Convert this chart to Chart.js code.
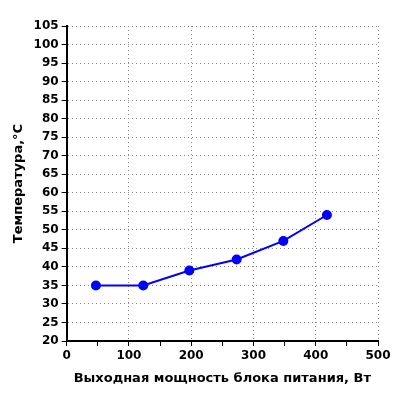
<!DOCTYPE html>
<html>
<head>
<meta charset="utf-8">
<script src="https://cdn.jsdelivr.net/npm/chart.js@4"></script>
<style>body{margin:0;background:#fff}</style>
</head>
<body>
<canvas id="c" width="400" height="400"></canvas>
<script>
var power = [47, 123, 197, 273, 348, 418];
var temperature = [35, 35, 39, 42, 47, 54];

var font = { family: 'DejaVu Sans', weight: 'bold', size: 12 };

new Chart(document.getElementById('c'), {
    type: 'scatter',
    data: {
        datasets: [{
            data: power.map(function (p, i) { return { x: p, y: temperature[i] }; }),
            showLine: true,
            borderColor: '#0000ff',
            backgroundColor: '#0000ff',
            borderWidth: 2,
            pointRadius: 4,
            pointHoverRadius: 4
        }]
    },
    options: {
        responsive: false,
        animation: false,
        layout: { padding: { top: 26, right: 22, left: 7, bottom: 10 } },
        plugins: { legend: { display: false }, tooltip: { enabled: false } },
        scales: {
            x: {
                type: 'linear', min: 0, max: 500,
                ticks: {
                    stepSize: 50, color: '#000', font: font, maxRotation: 0,
                    callback: function (v) { return v % 100 === 0 ? v : ''; }
                },
                grid: {
                    color: function (c) { return c.tick && c.tick.value % 100 === 0 ? '#888' : 'rgba(0,0,0,0)'; },
                    tickColor: '#000', tickLength: 5
                },
                border: { color: '#000', width: 2, dash: [1, 3] },
                title: { display: true, text: 'Выходная мощность блока питания, Вт', color: '#000', font: { family: 'DejaVu Sans', weight: 'bold', size: 13 } }
            },
            y: {
                min: 20, max: 105,
                ticks: { stepSize: 5, color: '#000', font: font },
                grid: { color: '#888', tickColor: '#000', tickLength: 5 },
                border: { color: '#000', width: 2, dash: [1, 3] },
                title: { display: true, text: 'Температура,°C', color: '#000', font: { family: 'DejaVu Sans', weight: 'bold', size: 13 } }
            }
        }
    }
});
</script>
</body>
</html>
